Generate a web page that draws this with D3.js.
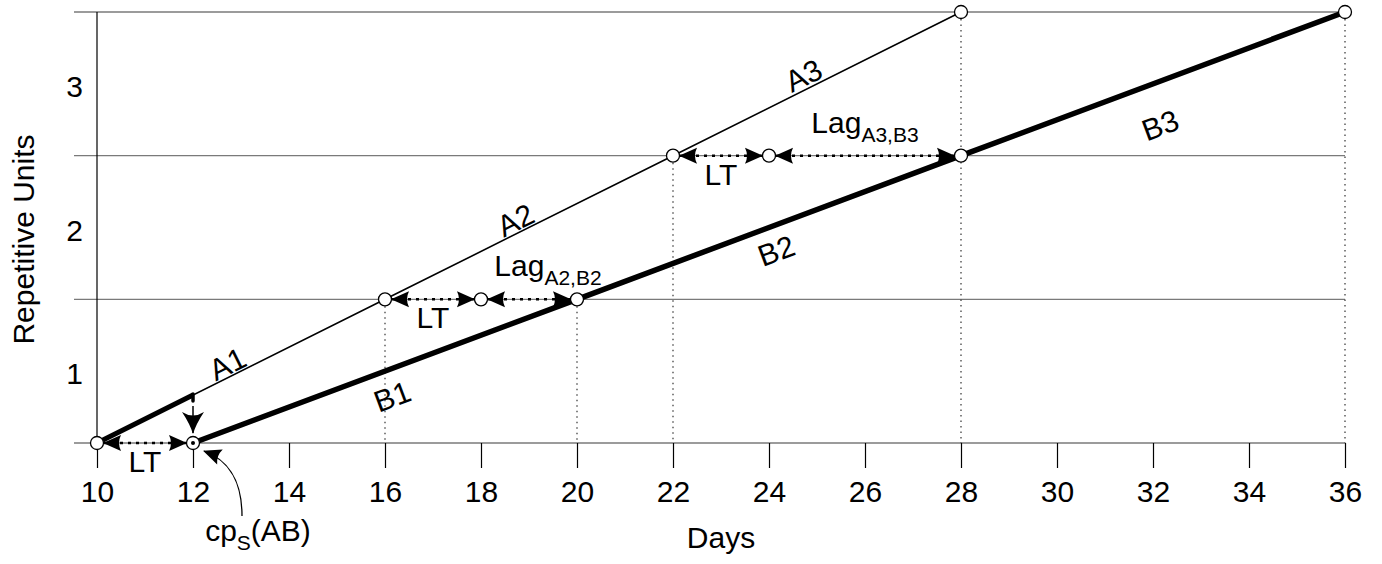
<!DOCTYPE html>
<html>
<head>
<meta charset="utf-8">
<script src="https://cdnjs.cloudflare.com/ajax/libs/d3/7.8.5/d3.min.js"></script>
<style>
	body { margin: 0; background: #fff; }
	svg { display: block; font-family: 'Liberation Sans', Arial, sans-serif; }
</style>
</head>
<body>
<div id="vis"></div>
<script>
var dayTicks = [10, 12, 14, 16, 18, 20, 22, 24, 26, 28, 30, 32, 34, 36];
var unitGrid = [0, 1, 2, 3];
var unitLabels = ['1', '2', '3'];

var activityA = [[10, 0], [16, 1], [22, 2], [28, 3]];
var activityB = [[12, 0], [20, 1], [28, 2], [36, 3]];
var namesA = ['A1', 'A2', 'A3'];
var namesB = ['B1', 'B2', 'B3'];
var leadDays = [10, 12];

var nodes = [[10, 0], [16, 1], [18, 1], [20, 1], [22, 2], [24, 2], [28, 2], [28, 3], [36, 3]];
var startNode = [12, 0];
var dropLines = [[16, 1], [20, 1], [22, 2], [28, 3], [36, 3]];

var spanFrom = [10, 16, 18, 22, 24];
var spanTo = [12, 18, 20, 24, 28];
var spanUnit = [0, 1, 1, 2, 2];
var spanLabel = ['LT', 'LT', 'Lag', 'LT', 'Lag'];
var spanSub = ['', '', 'A2,B2', '', 'A3,B3'];

var width = 1382,
	height = 564,
	fontSize = 30,
	subSize = 21;

var margin = {
	left: 97,
	right: 37,
	top: 12,
	bottom: 121
};

var x = d3.scaleLinear()
	.domain([10, 36])
	.range([margin.left, width - margin.right]);

var y = d3.scaleLinear()
	.domain([0, 3])
	.range([height - margin.bottom, margin.top]);

var svg = d3.select('#vis')
	.append('svg')
	.attr('width', width)
	.attr('height', height);

var defs = svg.append('defs');

defs.append('marker')
	.attr('id', 'head')
	.attr('viewBox', '-20 -10 22 20')
	.attr('markerWidth', 22)
	.attr('markerHeight', 20)
	.attr('markerUnits', 'userSpaceOnUse')
	.attr('orient', 'auto-start-reverse')
  .append('path')
	.attr('d', 'M1,0 L-17,-8 Q-13,0 -17,8 Z')
	.attr('fill', '#000');

defs.append('marker')
	.attr('id', 'bighead')
	.attr('viewBox', '-24 -13 26 26')
	.attr('markerWidth', 26)
	.attr('markerHeight', 26)
	.attr('markerUnits', 'userSpaceOnUse')
	.attr('orient', 'auto')
  .append('path')
	.attr('d', 'M1,0 Q-9,-3 -21,-11 Q-14,0 -21,11 Q-9,3 1,0 Z')
	.attr('fill', '#000');

// grid
svg.append('g')
	.selectAll('line')
	.data(unitGrid)
	.enter().append('line')
		.attr('x1', margin.left - 23)
		.attr('x2', x(36))
		.attr('y1', function(d) { return y(d); })
		.attr('y2', function(d) { return y(d); })
		.attr('stroke', '#7a7a7a')
		.attr('stroke-width', 1.4);

// y axis line
svg.append('line')
	.attr('x1', x(10))
	.attr('x2', x(10))
	.attr('y1', y(3))
	.attr('y2', y(0))
	.attr('stroke', '#000')
	.attr('stroke-width', 1.2);

var xAxis = svg.append('g')
	.attr('transform', 'translate(0,' + y(0) + ')')
	.call(d3.axisBottom(x).tickValues(dayTicks).tickSize(25).tickPadding(13));

xAxis.select('.domain').remove();
xAxis.selectAll('line').attr('stroke', '#000').attr('stroke-width', 1.2);
xAxis.selectAll('text')
	.attr('font-family', 'Liberation Sans, Arial, sans-serif')
	.attr('font-size', fontSize)
	.attr('fill', '#000');

svg.append('g')
	.selectAll('text')
	.data(unitLabels)
	.enter().append('text')
		.attr('x', margin.left - 14)
		.attr('y', function(d, i) { return y(i + 0.5) + 13; })
		.attr('text-anchor', 'end')
		.attr('font-size', fontSize)
		.text(function(d) { return d; });

svg.append('text')
	.attr('transform', 'translate(34,' + (y(1.5) + 12) + ') rotate(-90)')
	.attr('text-anchor', 'middle')
	.attr('font-size', fontSize)
	.text('Repetitive Units');

svg.append('text')
	.attr('x', (x(10) + x(36)) / 2)
	.attr('y', 548)
	.attr('text-anchor', 'middle')
	.attr('font-size', fontSize)
	.text('Days');

// dotted drop lines
svg.append('g')
	.selectAll('line')
	.data(dropLines)
	.enter().append('line')
		.attr('x1', function(d) { return x(d[0]); })
		.attr('x2', function(d) { return x(d[0]); })
		.attr('y1', function(d) { return y(d[1]) + 7; })
		.attr('y2', y(0))
		.attr('stroke', '#333')
		.attr('stroke-width', 1.2)
		.attr('stroke-dasharray', '1.5,4');

var line = d3.line()
	.x(function(d) { return x(d[0]); })
	.y(function(d) { return y(d[1]); });

svg.append('path')
	.datum(activityA)
	.attr('d', line)
	.attr('fill', 'none')
	.attr('stroke', '#000')
	.attr('stroke-width', 1.6);

// thick lead part of A1
var slopeA = (activityA[1][1] - activityA[0][1]) / (activityA[1][0] - activityA[0][0]);
var leadEnd = [leadDays[1], activityA[0][1] + slopeA * (leadDays[1] - leadDays[0])];

svg.append('path')
	.datum([[leadDays[0], 0], leadEnd])
	.attr('d', line)
	.attr('fill', 'none')
	.attr('stroke', '#000')
	.attr('stroke-width', 5);

svg.append('line')
	.attr('x1', x(leadEnd[0]))
	.attr('x2', x(leadEnd[0]))
	.attr('y1', y(leadEnd[1]) - 1)
	.attr('y2', y(leadEnd[1]) + 6)
	.attr('stroke', '#000')
	.attr('stroke-width', 3.5)
	.attr('stroke-linecap', 'round');

svg.append('line')
	.attr('x1', x(leadEnd[0]))
	.attr('x2', x(leadEnd[0]))
	.attr('y1', y(leadEnd[1]) + 11)
	.attr('y2', y(0) - 10)
	.attr('stroke', '#000')
	.attr('stroke-width', 1.5)
	.attr('marker-end', 'url(#bighead)');

svg.append('path')
	.datum(activityB)
	.attr('d', line)
	.attr('fill', 'none')
	.attr('stroke', '#000')
	.attr('stroke-width', 5.5);

// LT / Lag dimension arrows
svg.append('g')
	.selectAll('line')
	.data(spanFrom)
	.enter().append('line')
		.attr('x1', function(d) { return x(d) + 7; })
		.attr('x2', function(d, i) { return x(spanTo[i]) - 7; })
		.attr('y1', function(d, i) { return y(spanUnit[i]); })
		.attr('y2', function(d, i) { return y(spanUnit[i]); })
		.attr('stroke', '#000')
		.attr('stroke-width', 2.5)
		.attr('stroke-dasharray', '3,5')
		.attr('marker-start', 'url(#head)')
		.attr('marker-end', 'url(#head)');

var labelShift = [0, 0, 19, 0, 0];

var spanText = svg.append('g')
	.selectAll('text')
	.data(spanFrom)
	.enter().append('text')
		.attr('x', function(d, i) { return (x(d) + x(spanTo[i])) / 2 + labelShift[i]; })
		.attr('y', function(d, i) { return y(spanUnit[i]) + (spanLabel[i] == 'LT' ? 29 : -23); })
		.attr('text-anchor', 'middle')
		.attr('font-size', fontSize);

spanText.append('tspan')
	.text(function(d, i) { return spanLabel[i]; });

spanText.append('tspan')
	.attr('font-size', subSize)
	.attr('dy', 9)
	.text(function(d, i) { return spanSub[i]; });

// nodes
svg.append('g')
	.selectAll('circle')
	.data(nodes.concat([startNode]))
	.enter().append('circle')
		.attr('cx', function(d) { return x(d[0]); })
		.attr('cy', function(d) { return y(d[1]); })
		.attr('r', 6.5)
		.attr('fill', '#fff')
		.attr('stroke', '#000')
		.attr('stroke-width', 1.3);

svg.append('circle')
	.attr('cx', x(startNode[0]))
	.attr('cy', y(startNode[1]))
	.attr('r', 2)
	.attr('fill', '#000');

// activity labels along the lines
function segmentLabels(points, names, along, offsets) {
	svg.append('g')
		.selectAll('text')
		.data(names)
		.enter().append('text')
			.attr('transform', function(d, i) {
				var a = points[i], b = points[i + 1];
				var t = along / (b[0] - a[0]);
				var px = x(a[0] + along),
					py = y(a[1] + t * (b[1] - a[1]));
				var ang = Math.atan2(y(b[1]) - y(a[1]), x(b[0]) - x(a[0])) * 180 / Math.PI;
				return 'translate(' + px + ',' + (py + offsets[i]) + ') rotate(' + ang + ')';
			})
			.attr('text-anchor', 'middle')
			.attr('dominant-baseline', 'central')
			.attr('font-size', fontSize)
			.text(function(d) { return d; });
}

segmentLabels(activityA, namesA, 2.72, [-14, -14, -15]);
segmentLabels(activityB, namesB, 4.15, [28, 26, 44]);

// critical point note
var cx0 = x(startNode[0]), cy0 = y(startNode[1]);
svg.append('path')
	.attr('d', 'M' + (cx0 + 49) + ',' + (cy0 + 73) + ' C' + (cx0 + 49) + ',' + (cy0 + 40) + ' ' + (cx0 + 38) + ',' + (cy0 + 18) + ' ' + (cx0 + 11) + ',' + (cy0 + 8))
	.attr('fill', 'none')
	.attr('stroke', '#000')
	.attr('stroke-width', 1.3)
	.attr('marker-end', 'url(#head)');

var cpText = svg.append('text')
	.attr('x', cx0 + 65)
	.attr('y', 541)
	.attr('text-anchor', 'middle')
	.attr('font-size', fontSize);
cpText.append('tspan').text('cp');
cpText.append('tspan').attr('font-size', subSize).attr('dy', 9).text('S');
cpText.append('tspan').attr('dy', -9).text('(AB)');
</script>
</body>
</html>
